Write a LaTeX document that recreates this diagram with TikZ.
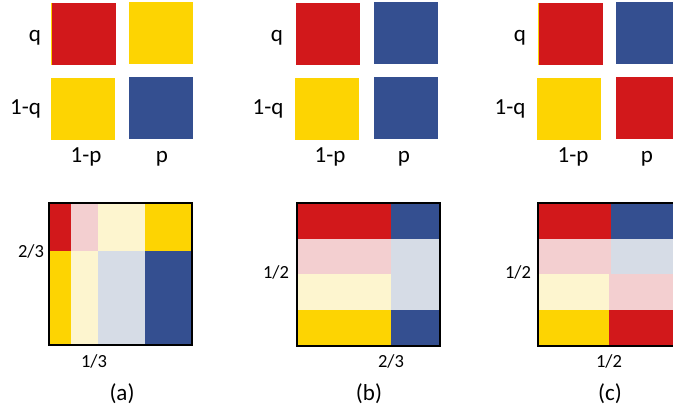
\documentclass[tikz,border=0pt]{standalone}
\usepackage{fontspec}
\setmainfont{Carlito}
\definecolor{cred}{HTML}{D2181B}
\definecolor{cyel}{HTML}{FDD402}
\definecolor{cblu}{HTML}{344F90}
\definecolor{cpink}{HTML}{F3CFD0}
\definecolor{clyel}{HTML}{FDF5CF}
\definecolor{clblu}{HTML}{D6DCE6}
\tikzset{
  lab/.style={anchor=base, inner sep=0pt, font=\fontsize{23}{27}\selectfont},
  frac/.style={anchor=base, inner sep=0pt, font=\fontsize{18.5}{22}\selectfont},
  caplab/.style={anchor=base, inner sep=0pt, font=\fontsize{23}{27}\selectfont},
  frame/.style={draw=black, line width=1.6pt}
}
\begin{document}
\begin{tikzpicture}[x=1pt,y=-1pt]
\useasboundingbox (0,0) rectangle (673,412);
% ---------- top panel (a)
\fill[cred] (51,3) rectangle (116,65);
\fill[cyel] (51,3) rectangle (52,65);
\fill[cyel] (129,2) rectangle (193,64);
\fill[cyel] (51,78) rectangle (115,140);
\fill[cblu] (129,77) rectangle (193,139);
\node[lab] (aq) at (35,42) {q};
\node[lab] (aq1) at (25.5,115) {1-q};
\node[lab] (ap1) at (86,163) {1-p};
\node[lab] (ap) at (162,163) {p};
% ---------- top panel (b)
\fill[cred] (296,3) rectangle (360,65);
\fill[cblu] (374,2) rectangle (438,64);
\fill[cyel] (295,78) rectangle (359,140);
\fill[cblu] (374,77) rectangle (438,139);
\node[lab] (bq) at (277,42) {q};
\node[lab] (bq1) at (268,115) {1-q};
\node[lab] (bp1) at (330,163) {1-p};
\node[lab] (bp) at (404,163) {p};
% ---------- top panel (c)
\fill[cred] (538,3) rectangle (603,65);
\fill[cyel] (538,3) rectangle (539,65);
\fill[cblu] (616,2) rectangle (673,64);
\fill[cyel] (537,78) rectangle (601,140);
\fill[cred] (616,77) rectangle (673,139);
\node[lab] (cq) at (520,42) {q};
\node[lab] (cq1) at (510,115) {1-q};
\node[lab] (cp1) at (573,163) {1-p};
\node[lab] (cp) at (647,163) {p};
% ---------- bottom panel (a)
\fill[cred] (49,203) rectangle (71,251);
\fill[cpink] (71,203) rectangle (98,251);
\fill[clyel] (98,203) rectangle (145,251);
\fill[cyel] (145,203) rectangle (192,251);
\fill[cyel] (49,251) rectangle (71,345);
\fill[clyel] (71,251) rectangle (98,345);
\fill[clblu] (98,251) rectangle (145,345);
\fill[cblu] (145,251) rectangle (192,345);
\draw[frame] (49,203) rectangle (192,345);
\node[frac] (a23) at (31,257) {2/3};
\node[frac] (a13) at (94,367) {1/3};
\node[caplab] (acap) at (122,400) {(a)};
% ---------- bottom panel (b)
\fill[cred] (297,203) rectangle (391,239);
\fill[cpink] (297,239) rectangle (391,274);
\fill[clyel] (297,274) rectangle (391,310);
\fill[cyel] (297,310) rectangle (391,346);
\fill[cblu] (391,203) rectangle (440,239);
\fill[clblu] (391,239) rectangle (440,310);
\fill[cblu] (391,310) rectangle (440,346);
\draw[frame] (297,203) rectangle (440,346);
\node[frac] (b12) at (276,278) {1/2};
\node[frac] (b23) at (391,367) {2/3};
\node[caplab] (bcap) at (369,400) {(b)};
% ---------- bottom panel (c)
\fill[cred] (538,203) rectangle (611,239);
\fill[cpink] (538,239) rectangle (611,274);
\fill[clyel] (538,274) rectangle (609,310);
\fill[cyel] (538,310) rectangle (609,346);
\fill[cblu] (611,203) rectangle (673,239);
\fill[clblu] (611,239) rectangle (673,274);
\fill[cpink] (609,274) rectangle (673,310);
\fill[cred] (609,310) rectangle (673,346);
\draw[frame] (675,203) -- (538,203) -- (538,346) -- (675,346);
\node[frac] (c12) at (518,278) {1/2};
\node[frac] (c12b) at (609,367) {1/2};
\node[caplab] (ccap) at (610,400) {(c)};
\end{tikzpicture}
\end{document}
